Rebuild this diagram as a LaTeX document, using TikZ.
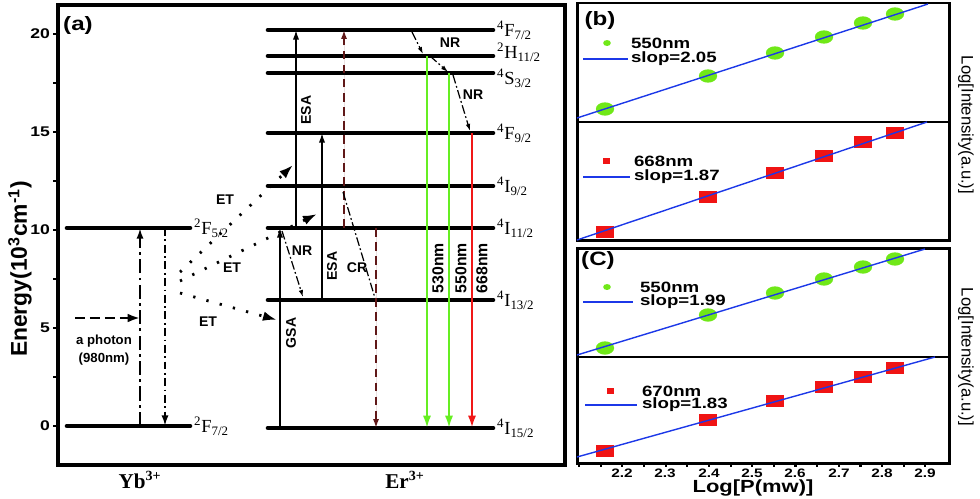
\documentclass[tikz,border=0pt]{standalone}
\usepackage{fontspec}
\setmainfont{Liberation Sans}
\newfontfamily\tnr{Liberation Serif}
\newfontfamily\wsf[FakeStretch=1.25]{Liberation Sans}
\usetikzlibrary{arrows.meta}
\usetikzlibrary{calc}

\definecolor{lvgreen}{RGB}{102,238,34}
\definecolor{lvred}{RGB}{240,24,24}
\definecolor{crred}{RGB}{96,24,24}
\definecolor{fitblue}{RGB}{28,56,232}
\definecolor{ptgreen}{RGB}{112,232,24}
\definecolor{ptred}{RGB}{240,20,20}

\begin{document}
\begin{tikzpicture}[x=0.02cm,y=-0.02cm,
	lvl/.style={line width=2.6pt,line cap=round},
	lvlab/.style={anchor=west,inner sep=1pt,font=\tnr\fontsize{10.5}{12}\selectfont},
	arr/.style={-{Latex[length=5.5pt,width=3.6pt]},line width=0.9pt},
	emit/.style={-{Latex[length=7pt,width=4.6pt]},line width=1.2pt},
	crline/.style={-{Latex[length=5pt,width=3.4pt]},line width=0.9pt,draw=crred,fill=crred,dash pattern=on 5pt off 3pt},
	etarr/.style={-{Latex[length=8pt,width=5.5pt]},line width=1.6pt,dash pattern=on 1.3pt off 6.5pt},
	nrarr/.style={-{Latex[length=4pt,width=2.6pt]},line width=0.7pt,dash pattern=on 5pt off 1.5pt on 1pt off 1.5pt},
	ybup/.style={-{Latex[length=6pt,width=4pt]},line width=1.2pt,dash pattern=on 8pt off 2.5pt on 1.5pt off 2.5pt},
	ybdn/.style={-{Latex[length=6pt,width=4pt]},line width=1.2pt,dash pattern=on 4.5pt off 2pt on 1pt off 2pt},
	tag/.style={inner sep=1pt,font=\bfseries\fontsize{8}{9}\selectfont},
	ticklab/.style={inner sep=1pt,font=\wsf\bfseries\fontsize{8}{10}\selectfont},
	leg/.style={anchor=west,inner sep=1pt,font=\wsf\bfseries\fontsize{8.5}{10}\selectfont},
	panlab/.style={font=\wsf\bfseries\fontsize{11}{13}\selectfont},
	frame/.style={line width=1.7pt},
	fit/.style={draw=fitblue,line width=0.8pt}]

	\useasboundingbox (0,0) rectangle (980,498);

	\draw [line width=2.3pt] (58,5) rectangle (565,465);
	\foreach \e in {0,2.5,...,20}
		\draw [line width=1.4pt] (53,{426-19.6*\e}) -- (58,{426-19.6*\e});
	\foreach \e in {0,5,10,15,20}
		\node [ticklab,anchor=east] (e\e) at (52,{426-19.6*\e}) {\e};
	\node [font=\bfseries\fontsize{13}{15}\selectfont,rotate=90] (ylab) at (20,269) {Energy(10\textsuperscript{3}cm\textsuperscript{-1})};
	\node [panlab] (pa) at (78,25) {(a)};

	\draw [lvl] (67,228) coordinate (yb5) -- (190,228) node [lvlab] (lyb5) {\textsuperscript{2}F\textsubscript{5/2}};
	\draw [lvl] (67,426) coordinate (yb7) -- (190,426) node [lvlab] (lyb7) {\textsuperscript{2}F\textsubscript{7/2}};
	\node [font=\tnr\bfseries\fontsize{12}{14}\selectfont] (yb) at (140,480) {Yb\textsuperscript{3+}};
	\node [font=\tnr\bfseries\fontsize{12}{14}\selectfont] (er) at (405,480) {Er\textsuperscript{3+}};

	\foreach \nm/\yy/\dy/\lab in {F7/30/0/{\textsuperscript{4}F\textsubscript{7/2}},
			H11/56/2/{\textsuperscript{2}H\textsubscript{11/2}},
			S3/73/-3/{\textsuperscript{4}S\textsubscript{3/2}},
			F9/133/0/{\textsuperscript{4}F\textsubscript{9/2}},
			I9/186/0/{\textsuperscript{4}I\textsubscript{9/2}},
			I11/228/0/{\textsuperscript{4}I\textsubscript{11/2}},
			I13/300/0/{\textsuperscript{4}I\textsubscript{13/2}},
			I15/428/0/{\textsuperscript{4}I\textsubscript{15/2}}}
		\draw [lvl] (268,\yy) coordinate (\nm) -- (493,\yy) node [lvlab,yshift=\dy pt] (l\nm) {\lab};

	\foreach \nm/\xx in {ybA/140,ybB/165,gsa/280,esaA/296,esaB/322,crA/344,crB/376,gA/427,gB/449,rC/472}
		\coordinate (\nm) at (\xx,0);
	\foreach \nm/\xx/\yy in {ph/75/318,etA/180/272,etB/180/281,etC/180/293,etAe/293/165,etBe/317/214,etCe/277/320,
			nrAs/282/231,nrAe/303/297,nrBs/412/32,nrBe/423/54,nrCs/430/56,nrCe/448/72,nrDs/453/75,nrDe/470/131,crs/343/192,cre/375/298}
		\coordinate (\nm) at (\xx,\yy);

	\draw [ybup] (yb7 -| ybA) -- (yb5 -| ybA);
	\draw [ybdn] (yb5 -| ybB) -- (yb7 -| ybB);
	\draw [-{Latex[length=7pt,width=5pt]},line width=1.4pt,dash pattern=on 5.5pt off 3pt] (ph) -- (ph -| ybA);
	\node [tag,font=\bfseries\fontsize{7.5}{10}\selectfont,align=center] (phlab) at (104,350) {a photon\\(980nm)};

	\draw [etarr] (etA) -- (etAe);
	\draw [etarr] (etB) -- (etBe);
	\draw [etarr] (etC) -- (etCe);
	\node [tag] (tetA) at (225,200) {ET};
	\node [tag] (tetB) at (232,268) {ET};
	\node [tag] (tetC) at (208,322) {ET};

	\draw [arr] (I15 -| gsa) -- (I11 -| gsa);
	\draw [arr] (I11 -| esaA) -- (F7 -| esaA);
	\draw [arr] (I13 -| esaB) -- (F9 -| esaB);
	\draw [crline] (I11 -| crA) -- (F7 -| crA);
	\draw [crline] (I11 -| crB) -- (I15 -| crB);
	\draw [emit,draw=lvgreen,fill=lvgreen] (H11 -| gA) -- (I15 -| gA);
	\draw [emit,draw=lvgreen,fill=lvgreen] (S3 -| gB) -- (I15 -| gB);
	\draw [emit,draw=lvred,fill=lvred,line width=1.5pt] (F9 -| rC) -- (I15 -| rC);

	\draw [nrarr] (nrAs) -- (nrAe);
	\draw [nrarr] (nrBs) -- (nrBe);
	\draw [nrarr] (nrCs) -- (nrCe);
	\draw [nrarr] (nrDs) -- (nrDe);
	\draw [line width=0.7pt,dash pattern=on 5pt off 1.5pt on 1pt off 1.5pt] (crs) -- (cre);

	\node [tag,rotate=90] (tgsa) at (291,333) {GSA};
	\node [tag,rotate=90] (tesaA) at (306,110) {ESA};
	\node [tag,rotate=90] (tesaB) at (332,266) {ESA};
	\node [tag] (tnrA) at (302,251) {NR};
	\node [tag] (tnrB) at (450,43) {NR};
	\node [tag] (tnrC) at (473,95) {NR};
	\node [tag] (tcr) at (357,268) {CR};
	\node [tag,font=\bfseries\fontsize{9}{10}\selectfont,rotate=90] (t530) at (438,268) {530nm};
	\node [tag,font=\bfseries\fontsize{9}{10}\selectfont,rotate=90] (t550) at (461,268) {550nm};
	\node [tag,font=\bfseries\fontsize{9}{10}\selectfont,rotate=90] (t668) at (482,268) {668nm};

	\draw [frame] (577,3) rectangle (949,240);
	\draw [line width=1.2pt] (577,122) -- (949,122);
	\draw [frame] (577,248) rectangle (949,463);
	\draw [line width=1.2pt] (577,357) -- (949,357);

	\foreach \px/\py in {605/109,708/76,775/53,824/37,863/23,895/14}
		\fill [ptgreen] (\px,\py) ellipse [x radius=5.2pt,y radius=3.8pt];
	\foreach \px/\py in {605/348,708/315,775/293,824/279,863/267,895/259}
		\fill [ptgreen] (\px,\py) ellipse [x radius=5.2pt,y radius=3.8pt];
	\foreach \px/\py in {605/232,708/197,775/173,824/156,863/142,895/133,605/451,708/420,775/401,824/387,863/377,895/368}
		\fill [ptred] (\px-9,\py-6) rectangle (\px+9,\py+6);

	\draw [fit] (577,118) -- (928,4);
	\draw [fit] (577,240) -- (927,122);
	\draw [fit] (577,355) -- (925,249);
	\draw [fit] (577,457) -- (935,357);

	\node [panlab] (pb) at (600,20) {(b)};
	\node [panlab] (pc) at (598,260) {(C)};

	\fill [ptgreen] (607,43) ellipse [x radius=2.2pt,y radius=1.7pt];
	\node [leg] (lg1) at (629,43) {550nm};
	\draw [fit] (583,59) -- (628,59);
	\node [leg] (ls1) at (629,59) {slop=2.05};
	\fill [ptred] (603,158) rectangle (610,164);
	\node [leg] (lg2) at (632,161) {668nm};
	\draw [fit] (583,177) -- (630,177);
	\node [leg] (ls2) at (632,177) {slop=1.87};
	\fill [ptgreen] (607,287) ellipse [x radius=2.2pt,y radius=1.7pt];
	\node [leg] (lg3) at (638,287) {550nm};
	\draw [fit] (583,302) -- (633,302);
	\node [leg] (ls3) at (638,302) {slop=1.99};
	\fill [ptred] (607,388) rectangle (614,394);
	\node [leg] (lg4) at (640,391) {670nm};
	\draw [fit] (585,405) -- (637,405);
	\node [leg] (ls4) at (640,405) {slop=1.83};

	\node [font=\fontsize{9.5}{11}\selectfont,rotate=-90] (ylb) at (966,125) {Log[Intensity(a.u.)]};
	\node [font=\fontsize{9.5}{11}\selectfont,rotate=-90] (ylc) at (966,357) {Log[Intensity(a.u.)]};

	\foreach \i in {0,...,16}
		\draw [line width=1.2pt] ({579+21.65*\i},463) -- ({579+21.65*\i},467);
	\foreach \v/\xx in {2.2/622,2.3/665,2.4/709,2.5/752,2.6/795,2.7/839,2.8/882,2.9/925}
		\node [ticklab,font=\wsf\bfseries\fontsize{7}{8}\selectfont] (x\xx) at (\xx,473) {\v};
	\node [font=\wsf\bfseries\fontsize{10}{12}\selectfont] (xlab) at (753,488) {Log[P(mw)]};

\end{tikzpicture}
\end{document}
